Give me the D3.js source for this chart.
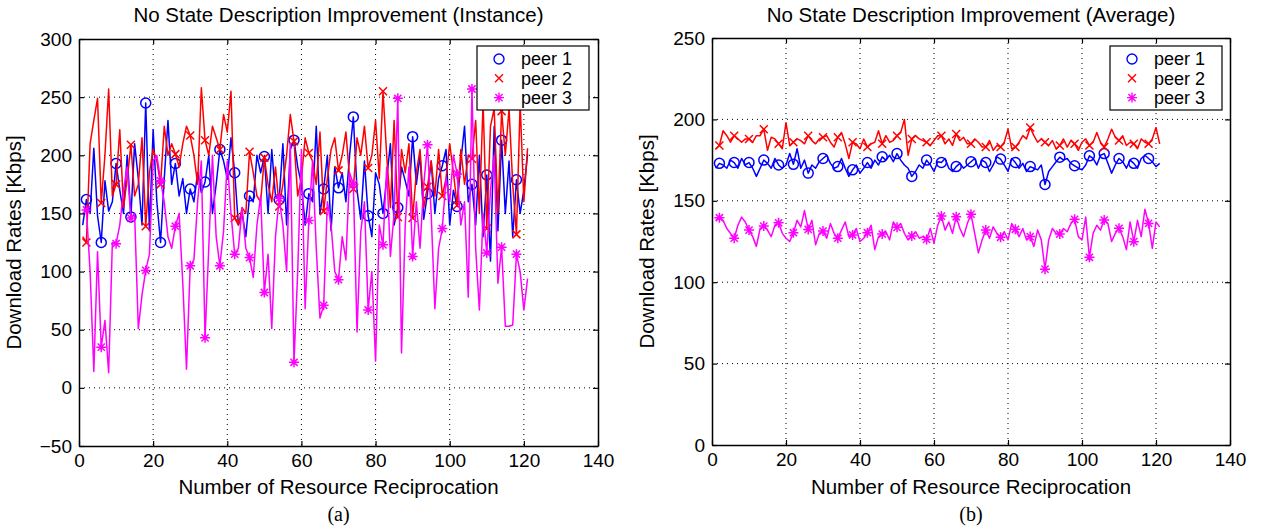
<!DOCTYPE html>
<html>
<head>
<meta charset="utf-8">
<script src="https://cdn.jsdelivr.net/npm/d3@7"></script>
<style>
  body { margin: 0; background: #fff; }
  svg text { font-family: "Liberation Sans", Arial, Helvetica, sans-serif; fill: #000; }
</style>
</head>
<body>
<script>
// values, one per reciprocation step (1..121)
var instPeer1 = [140,162,150,206,148,125,178,152,160,193,
  170,150,200,147,210,180,140,245,135,222,
  160,125,180,230,175,193,165,180,150,171,
  160,185,168,177,200,150,175,205,195,180,
  215,185,140,150,130,165,160,200,185,199,
  150,205,165,162,210,140,205,213,190,175,
  140,167,160,225,150,171,200,135,190,172,
  185,160,200,233,170,145,195,148,130,185,
  175,150,180,210,140,155,190,178,165,216,
  175,200,145,167,195,150,180,191,205,140,
  170,156,195,225,160,175,140,200,130,183,
  109,225,135,213,150,195,130,179,150,170,
  201];
var instPeer2 = [130,125,210,230,249,159,200,257,165,175,
  222,155,180,209,165,175,215,139,185,205,
  195,175,225,200,210,201,190,210,225,217,
  200,175,258,213,200,225,215,205,235,220,
  255,146,140,155,150,203,185,165,160,198,
  175,160,190,156,175,200,235,212,165,180,
  215,202,195,175,220,152,180,205,215,187,
  200,220,180,171,215,200,225,189,200,230,
  180,255,200,155,230,147,205,185,210,146,
  185,205,155,173,195,165,205,165,180,210,
  185,157,205,175,200,197,230,150,245,137,
  225,240,150,238,200,240,175,132,245,160,
  206];
var instPeer3 = [150,153,100,14,117,35,58,13,125,124,
  140,170,190,146,150,51,80,101,115,195,
  200,178,160,130,120,139,150,90,16,105,
  110,160,195,43,120,200,130,105,135,195,
  150,115,120,155,120,112,95,140,165,82,
  115,51,130,163,140,100,210,22,100,205,
  68,144,195,120,60,71,160,140,100,93,
  130,110,185,175,48,134,160,67,100,23,
  140,123,190,113,150,249,30,140,190,113,
  160,120,175,209,150,68,120,137,180,160,
  200,184,140,160,78,257,120,67,150,116,
  170,200,90,121,53,53,54,115,100,67,
  94];

var avgPeer1 = [170,173,172,170,175,173.5,170,176,172,173.5,
  170,165,170,175,173,170,176,172,170,172,
  179,172.4,182,170,175,167,172,170,174,176,
  178,173,170,171,176,170,165,169,172,167,
  170,173.5,170,175,172,177,175,178,174,179,
  175,172,170,165,168,172,170,175,172,168,
  174,173.5,176,170,168,171,173,170,172,174,
  176,170,175,173.5,168,172,177,175.6,172,168,
  176,173.5,170,173,168,171,170,169,172,160,
  168,171,174,176.8,175,176,173,171.5,170,169,
  172,177.6,176,172,178,179,173,167,172,176,
  174,170,175,173,170,176,178,176,174,171,
  173];
var avgPeer2 = [182,184,193,190,186,190,188,186,188,188,
  186,190,190,194,181,189,188,185,182,198,
  184,186,188,187,185,190,187,185,188,189,
  190,186,183,189,192,185,176,186,185,182,
  188,183,185,186,193,185,190,186,187,190,
  192,200,178,188,190,188,187,186,184,187,
  190,190,185,188,184,191,187,189,185,185,
  188,186,183,183,187,181,184,183,186,194,
  182,183,186,190,188,195,190,186,188,186,
  184,187,182,184,188,183,187,185,181,186,
  188,184,186,192,186,183,188,194,189,187,
  190,184,186,185,182,188,186,185,188,195,
  185];
var avgPeer3 = [138,139.6,138,133,130,127,135,140,137,132,
  128,122,133,134.5,132,128,135,136.5,130,127,
  125,130.4,138,134,144,132.4,138,123,130,131.4,
  127,136,130,127,132,137,128,129,133,125,
  127,130.4,135,120,128,129.6,131,126,137,133.7,
  136,130,126,128.4,131,127,128,126.3,133,124,
  135,140.6,132,137,130,140.2,133,128,136,141.8,
  130,118,126,132.1,127,134,130,127.6,131,126,
  136,132.5,128,133,126,128,122,132,126,108,
  126,133,130,129.6,133,131,136,138.6,128,126,
  140,115.3,130,135,132,138.2,136,125,130,133.1,
  128,120,137,124.9,138,128,144.8,136.1,120.8,137,
  134];

var peerNames = ["peer 1", "peer 2", "peer 3"];
var xTicks = [0, 20, 40, 60, 80, 100, 120, 140];
var instYTicks = [-50, 0, 50, 100, 150, 200, 250, 300];
var avgYTicks = [0, 50, 100, 150, 200, 250];

var colors = ["#0000ff", "#ff0000", "#ff00ff"];
var markerTypes = ["circle", "x", "star"];

var svg = d3.select("body").append("svg")
  .attr("width", 1261)
  .attr("height", 527);

// marker shapes like matlab's o, x and *
function markerPath(type) {
  if (type == "circle") return d3.symbol().type(d3.symbolCircle).size(Math.PI * 25)();
  if (type == "x") { var h = 4; return "M" + -h + "," + -h + "L" + h + "," + h + "M" + -h + "," + h + "L" + h + "," + -h; }
  var r = 5, a = r * 0.72;
  return "M" + -r + ",0L" + r + ",0M0," + -r + "L0," + r +
    "M" + -a + "," + -a + "L" + a + "," + a + "M" + -a + "," + a + "L" + a + "," + -a;
}

function drawPanel(p) {
  var x = d3.scaleLinear().domain([0, 140]).range([p.left, p.right]);
  var y = d3.scaleLinear().domain(p.yDomain).range([p.bottom, p.top]);
  var g = svg.append("g");

  // dotted grid
  g.selectAll(".gx").data(xTicks.slice(1, -1)).enter().append("line")
    .attr("x1", d => x(d)).attr("x2", d => x(d))
    .attr("y1", p.top).attr("y2", p.bottom)
    .attr("stroke", "#000").attr("stroke-width", 1).attr("stroke-dasharray", "1,4");
  g.selectAll(".gy").data(p.yTicks.slice(1, -1)).enter().append("line")
    .attr("y1", d => y(d)).attr("y2", d => y(d))
    .attr("x1", p.left).attr("x2", p.right)
    .attr("stroke", "#000").attr("stroke-width", 1).attr("stroke-dasharray", "1,4");

  // series
  var line = d3.line().x(d => x(d.x)).y(d => y(d.v));
  p.series.forEach(function(vals, k) {
    var pts = vals.map((v, i) => ({x: i + 1, v: v}));
    g.append("path").datum(pts)
      .attr("d", line)
      .attr("fill", "none").attr("stroke", colors[k]).attr("stroke-width", 1.5)
      .attr("stroke-linejoin", "round");
    g.selectAll(".m" + k).data(pts.filter(d => (d.x - 2) % 4 == 0)).enter().append("path")
      .attr("d", markerPath(markerTypes[k]))
      .attr("transform", d => "translate(" + x(d.x) + "," + y(d.v) + ")")
      .attr("fill", "none").attr("stroke", colors[k]).attr("stroke-width", 1.5);
  });

  // axes, ticks pointing inside
  var ax = [
    [d3.axisBottom(x).tickValues(xTicks).tickSize(-5).tickPadding(8).tickSizeOuter(0), "translate(0," + p.bottom + ")"],
    [d3.axisTop(x).tickValues(xTicks).tickSize(-5).tickSizeOuter(0).tickFormat(""), "translate(0," + p.top + ")"],
    [d3.axisLeft(y).tickValues(p.yTicks).tickSize(-5).tickPadding(7).tickSizeOuter(0).tickFormat(d => d < 0 ? "\u2212" + (-d) : d), "translate(" + p.left + ",0)"],
    [d3.axisRight(y).tickValues(p.yTicks).tickSize(-5).tickSizeOuter(0).tickFormat(""), "translate(" + p.right + ",0)"]
  ];
  ax.forEach(function(a) {
    var ag = g.append("g").attr("transform", a[1]).call(a[0]);
    ag.select(".domain").attr("stroke", "#000").attr("stroke-width", 1.5);
    ag.selectAll(".tick line").attr("stroke", "#000").attr("stroke-width", 1.2);
    ag.selectAll(".tick text").attr("font-size", 19)
      .attr("font-family", "'Liberation Sans', Arial, sans-serif").attr("fill", "#000");
  });

  // titles and labels
  g.append("text").attr("x", (p.left + p.right) / 2).attr("y", 22)
    .attr("text-anchor", "middle").attr("font-size", 20.5).text(p.title);
  g.append("text").attr("x", (p.left + p.right) / 2).attr("y", 494)
    .attr("text-anchor", "middle").attr("font-size", 20.5).text("Number of Resource Reciprocation");
  g.append("text").attr("transform", "translate(" + (p.left - 58) + "," + ((p.top + p.bottom) / 2) + ") rotate(-90)")
    .attr("text-anchor", "middle").attr("font-size", 20.5).text("Download Rates [Kbps]");
  g.append("text").attr("x", (p.left + p.right) / 2).attr("y", 521)
    .attr("text-anchor", "middle").attr("font-size", 20)
    .style("font-family", "'Liberation Serif', 'Times New Roman', serif").text(p.caption);

  // legend
  var lg = g.append("g").attr("transform", "translate(" + p.legend[0] + "," + p.legend[1] + ")");
  lg.append("rect").attr("width", 112).attr("height", 64)
    .attr("fill", "#fff").attr("stroke", "#000").attr("stroke-width", 1.2);
  peerNames.forEach(function(name, k) {
    var yy = 13 + k * 19.3;
    lg.append("path").attr("d", markerPath(markerTypes[k]))
      .attr("transform", "translate(22," + yy + ")")
      .attr("fill", "none").attr("stroke", colors[k]).attr("stroke-width", 1.4);
    lg.append("text").attr("x", 44).attr("y", yy).attr("dy", "0.35em")
      .attr("font-size", 18).text(name);
  });
}

drawPanel({
  left: 79, right: 598, top: 39, bottom: 446,
  yDomain: [-50, 300], yTicks: instYTicks,
  series: [instPeer1, instPeer2, instPeer3],
  title: "No State Description Improvement (Instance)", caption: "(a)",
  legend: [477, 46]
});
drawPanel({
  left: 712, right: 1230, top: 38, bottom: 445,
  yDomain: [0, 250], yTicks: avgYTicks,
  series: [avgPeer1, avgPeer2, avgPeer3],
  title: "No State Description Improvement (Average)", caption: "(b)",
  legend: [1110, 46]
});
</script>
</body>
</html>
